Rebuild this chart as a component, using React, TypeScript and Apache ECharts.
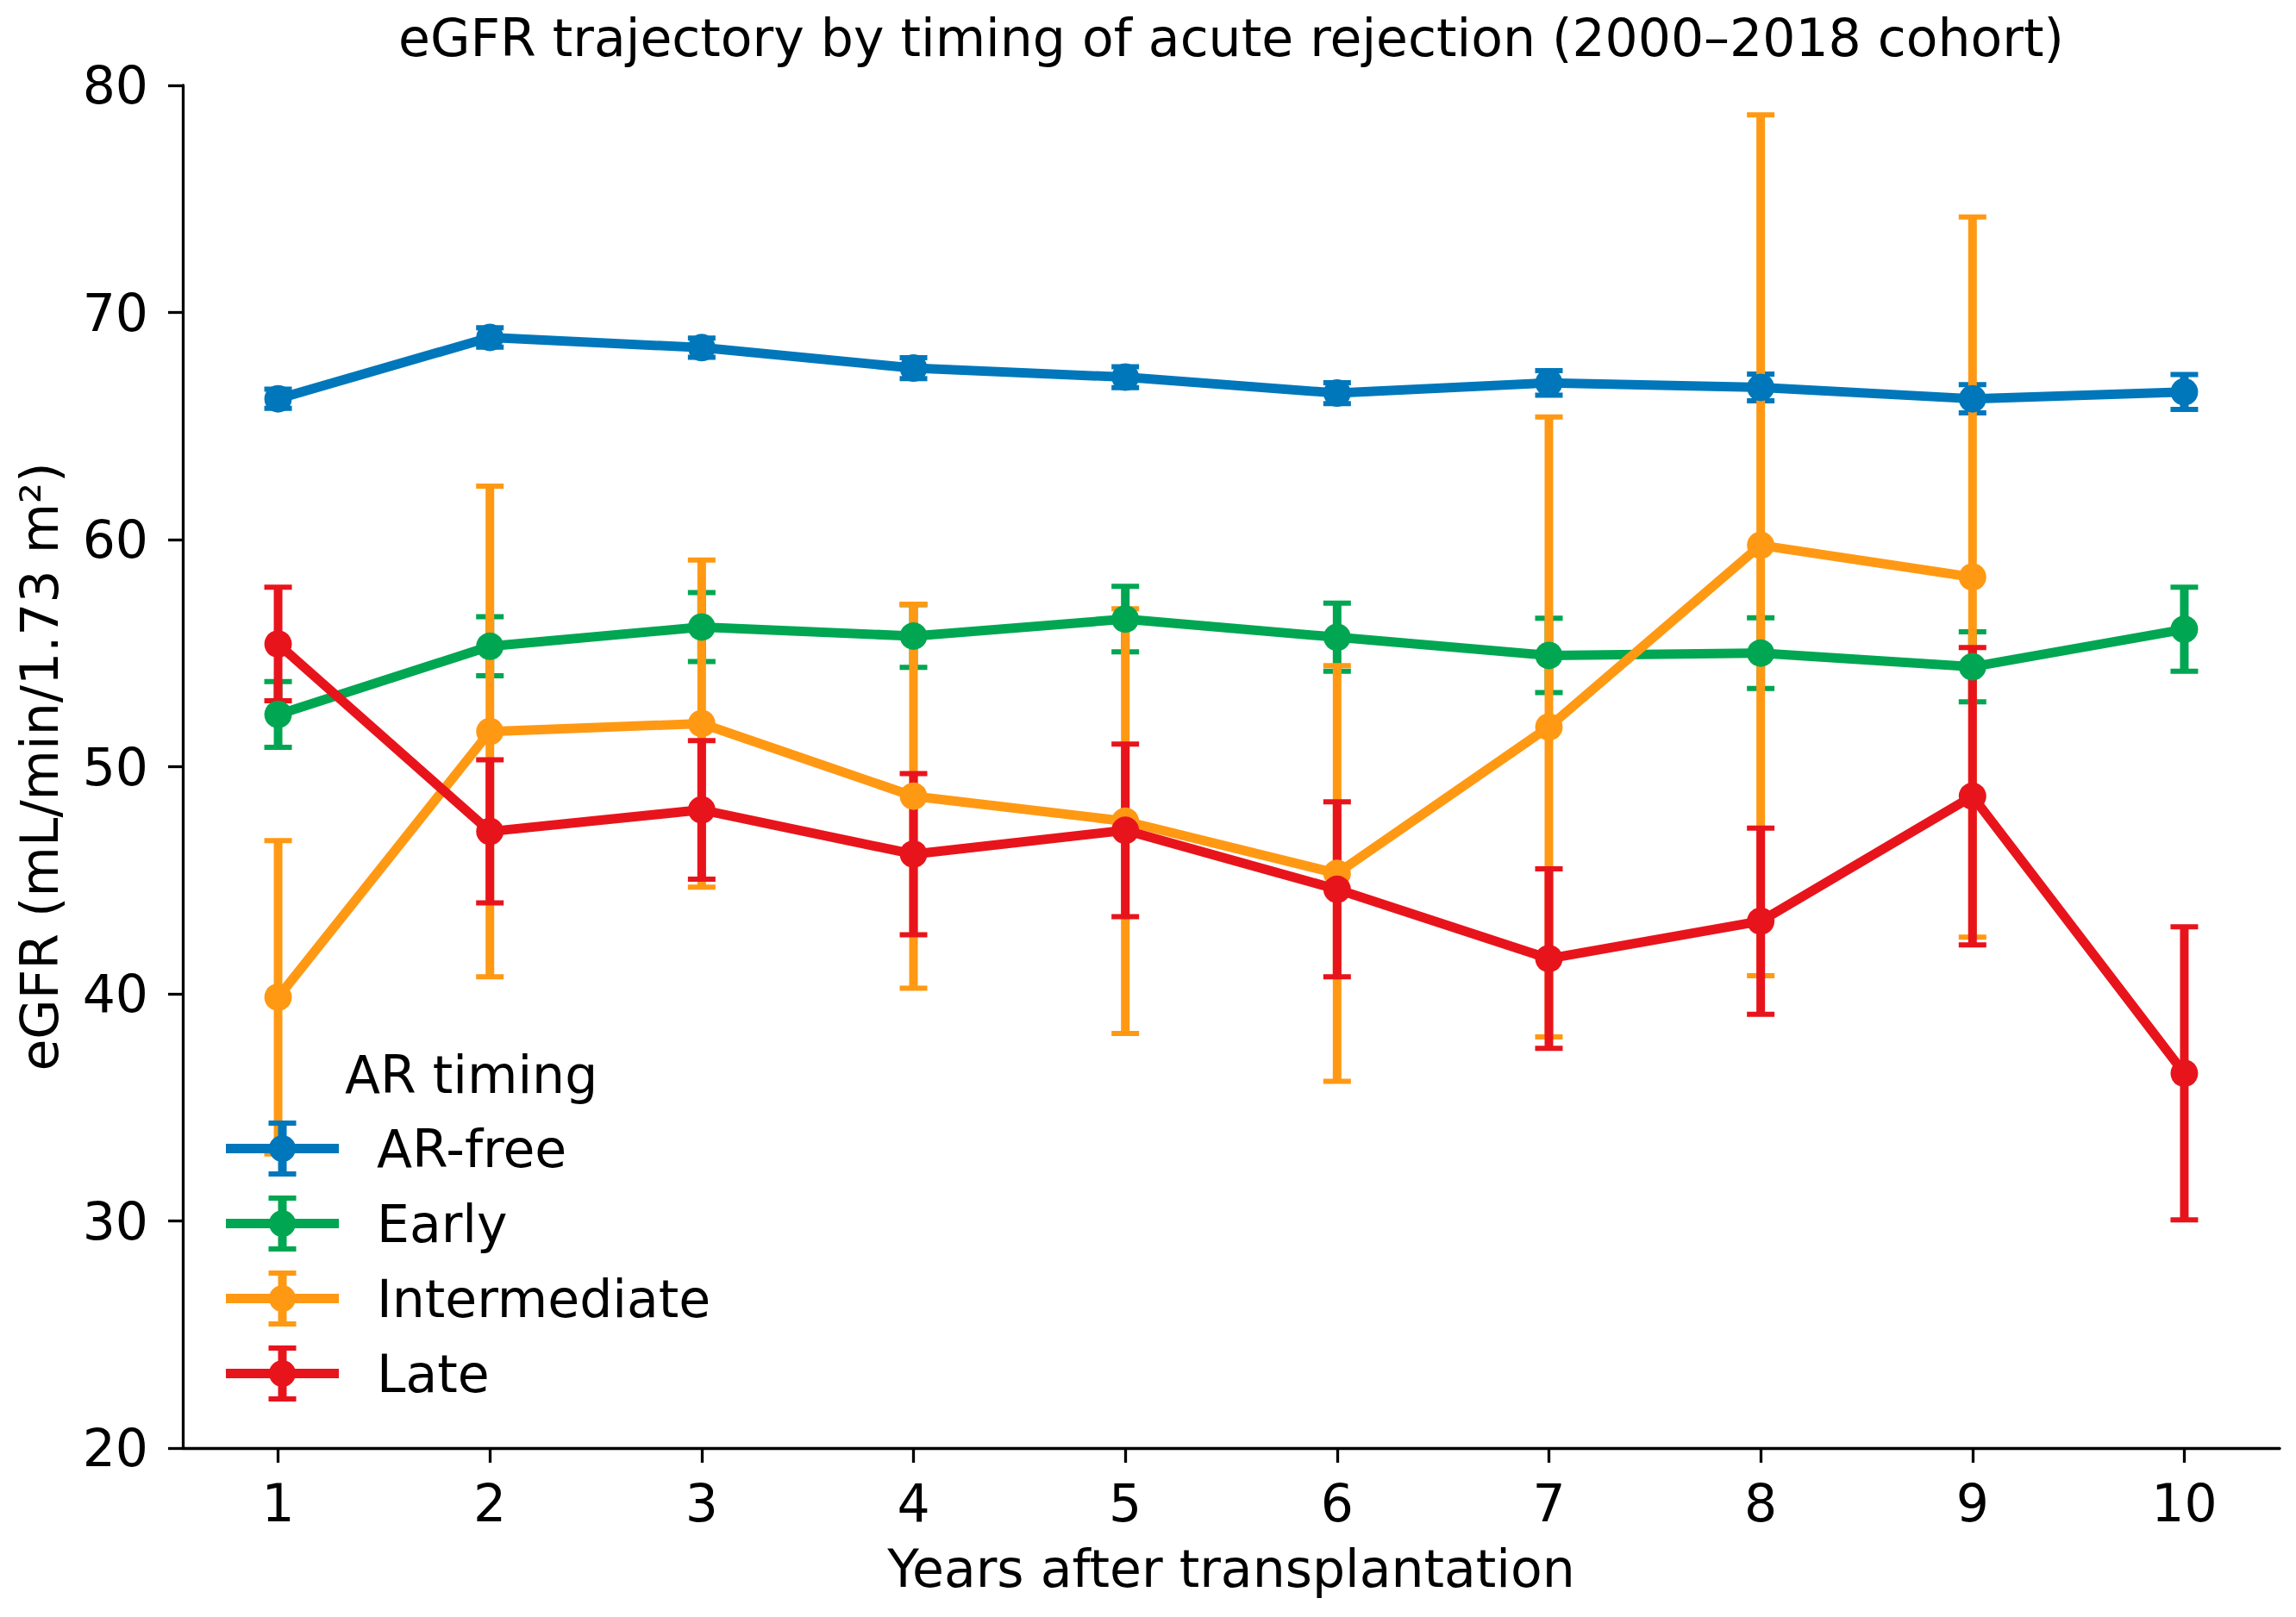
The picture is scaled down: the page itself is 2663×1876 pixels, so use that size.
import React, { useEffect, useRef } from 'react';
import * as echarts from 'echarts';

// years after transplantation
const years = [1, 2, 3, 4, 5, 6, 7, 8, 9, 10];

// mean eGFR and half-width of the error bar, per AR timing group
const arFreeMean = [66.2, 68.9, 68.45, 67.55, 67.15, 66.45, 66.9, 66.7, 66.2, 66.5];
const arFreeErr = [0.42, 0.43, 0.42, 0.46, 0.46, 0.46, 0.54, 0.59, 0.62, 0.77];

const earlyMean = [52.3, 55.3, 56.15, 55.75, 56.5, 55.7, 54.9, 55.0, 54.4, 56.05];
const earlyErr = [1.45, 1.3, 1.52, 1.38, 1.44, 1.5, 1.64, 1.56, 1.54, 1.85];

const intermediateMean = [39.85, 51.55, 51.9, 48.7, 47.6, 45.3, 51.75, 59.75, 58.35, null];
const intermediateErr = [6.9, 10.8, 7.2, 8.45, 9.35, 9.15, 13.65, 18.95, 15.85, null];

const lateMean = [55.4, 47.15, 48.1, 46.15, 47.2, 44.6, 41.55, 43.2, 48.7, 36.5];
const lateErr = [2.5, 3.15, 3.05, 3.55, 3.8, 3.85, 3.95, 4.1, 6.55, 6.45];

const yTicks = { min: 20, max: 80, step: 10 };

const FONT = 'DejaVu Sans';
const FS = 60;

const groups = [
  { name: 'AR-free', color: '#0077BB', mean: arFreeMean, err: arFreeErr },
  { name: 'Early', color: '#00A651', mean: earlyMean, err: earlyErr },
  { name: 'Intermediate', color: '#FF9914', mean: intermediateMean, err: intermediateErr },
  { name: 'Late', color: '#E8141C', mean: lateMean, err: lateErr },
];

// legend handle: horizontal line + error bar with caps + marker (131 x 65 box)
const LEGEND_ICON =
  'path://M0 27H131V38H0Z' +
  'M49.5 0H81.5V6H49.5Z' +
  'M49.5 59H81.5V65H49.5Z' +
  'M60.5 0H70.5V65H60.5Z' +
  'M50 32.5A15.5 15.5 0 1 1 81 32.5A15.5 15.5 0 1 1 50 32.5Z';

const CAP_HALF = 16;

function errorSeries(g: (typeof groups)[number]) {
  const data = years
    .map((x, i) => {
      const m = g.mean[i];
      const e = g.err[i];
      if (m == null || e == null) return null;
      return [x, m - e, m + e];
    })
    .filter((d) => d !== null) as number[][];
  return {
    type: 'custom',
    name: g.name + ' CI',
    z: 1,
    silent: true,
    data,
    encode: { x: 0, y: [1, 2] },
    renderItem: (_params: any, api: any) => {
      const x = api.value(0);
      const lo = api.coord([x, api.value(1)]);
      const hi = api.coord([x, api.value(2)]);
      return {
        type: 'group',
        children: [
          {
            type: 'line',
            shape: { x1: hi[0], y1: hi[1], x2: lo[0], y2: lo[1] },
            style: { stroke: g.color, lineWidth: 10 },
          },
          {
            type: 'line',
            shape: { x1: hi[0] - CAP_HALF, y1: hi[1], x2: hi[0] + CAP_HALF, y2: hi[1] },
            style: { stroke: g.color, lineWidth: 6 },
          },
          {
            type: 'line',
            shape: { x1: lo[0] - CAP_HALF, y1: lo[1], x2: lo[0] + CAP_HALF, y2: lo[1] },
            style: { stroke: g.color, lineWidth: 6 },
          },
        ],
      };
    },
  };
}

function lineSeries(g: (typeof groups)[number]) {
  return {
    type: 'line',
    name: g.name,
    z: 2,
    data: years.map((x, i) => [x, g.mean[i]]),
    symbol: 'circle',
    symbolSize: 32,
    showSymbol: true,
    connectNulls: false,
    color: g.color,
    lineStyle: { color: g.color, width: 11 },
    itemStyle: { color: g.color, borderWidth: 0 },
    emphasis: { disabled: true },
  };
}

const textBase = { fontFamily: FONT, fontSize: FS, color: '#000', fontWeight: 'normal' as const };

function buildOption(): echarts.EChartsOption {
  return {
    animation: false,
    backgroundColor: '#ffffff',
    textStyle: { fontFamily: FONT },
    title: [
      {
        text: 'eGFR trajectory by timing of acute rejection (2000–2018 cohort)',
        left: 1428,
        top: 14,
        textAlign: 'center',
        padding: 0,
        textStyle: textBase,
      },
      {
        text: 'AR timing',
        left: 400,
        top: 1217,
        padding: 0,
        textStyle: textBase,
      },
    ],
    legend: {
      orient: 'vertical',
      left: 262,
      top: 1300,
      padding: 0,
      itemWidth: 131,
      itemHeight: 65,
      itemGap: 22,
      selectedMode: false,
      data: groups.map((g) => ({ name: g.name, icon: LEGEND_ICON })),
      itemStyle: { borderWidth: 0 },
      textStyle: { ...textBase, padding: [0, 0, 0, 39] },
    },
    grid: {
      left: 212,
      right: 19,
      top: 99,
      bottom: 196,
      containLabel: false,
      outerBoundsMode: 'none',
    } as any,
    xAxis: {
      type: 'value',
      min: 0.55,
      max: 10.45,
      name: 'Years after transplantation',
      nameLocation: 'middle',
      nameGap: 110,
      nameTextStyle: textBase,
      axisLine: { show: true, lineStyle: { color: '#000', width: 3.3 } },
      axisTick: {
        show: true,
        length: 17,
        customValues: years,
        lineStyle: { color: '#000', width: 3.3 },
      },
      axisLabel: { ...textBase, margin: 34, customValues: years },
      splitLine: { show: false },
    } as any,
    yAxis: {
      type: 'value',
      min: yTicks.min,
      max: yTicks.max,
      interval: yTicks.step,
      name: 'eGFR (mL/min/1.73 m²)',
      nameLocation: 'middle',
      nameGap: 136,
      nameTextStyle: textBase,
      axisLine: { show: true, lineStyle: { color: '#000', width: 3.3 } },
      axisTick: { show: true, length: 17, lineStyle: { color: '#000', width: 3.3 } },
      axisLabel: { ...textBase, margin: 40 },
      splitLine: { show: false },
    },
    series: [...groups.map(errorSeries), ...groups.map(lineSeries)] as any,
  };
}

export default function App() {
  const chartRef = useRef<HTMLDivElement>(null);

  useEffect(() => {
    if (!chartRef.current) return;
    const chart = echarts.init(chartRef.current, null, { renderer: 'svg' });
    chart.setOption(buildOption());
    return () => {
      chart.dispose();
    };
  }, []);

  return (
    <div
      ref={chartRef}
      style={{ position: 'fixed', left: 0, top: 0, width: 2663, height: 1876, background: '#fff' }}
    />
  );
}
